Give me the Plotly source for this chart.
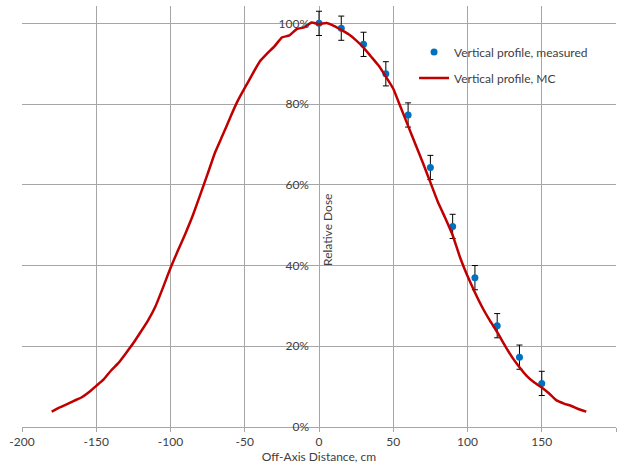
import plotly.graph_objects as go

# Measured vertical profile (relative dose, fraction)
meas_x = [0, 15, 30, 45, 60, 75, 90, 105, 120, 135, 150]
meas_y = [1.000, 0.988, 0.948, 0.875, 0.773, 0.643, 0.497, 0.370, 0.251, 0.173, 0.108]
meas_err = [0.03] * len(meas_x)

# Monte Carlo vertical profile
mc_x = [-180, -175, -170, -165, -160, -155, -150, -145, -140, -135, -130, -125, -120,
        -115, -110, -105, -100, -95, -90, -85, -80, -75, -70, -65, -60, -55, -50, -45,
        -40, -35, -30, -25, -20, -15, -10, -5, 0, 5, 10, 15, 20, 25, 30, 35, 40, 45, 50,
        55, 60, 65, 70, 75, 80, 85, 90, 95, 100, 105, 110, 115, 120, 125, 130, 135, 140,
        145, 150, 155, 160, 165, 170, 175, 180]
mc_y = [0.038, 0.048, 0.056, 0.065, 0.073, 0.086, 0.102, 0.118, 0.140, 0.159, 0.183,
        0.208, 0.236, 0.265, 0.300, 0.346, 0.394, 0.437, 0.479, 0.524, 0.575, 0.627,
        0.680, 0.722, 0.765, 0.806, 0.840, 0.873, 0.905, 0.925, 0.943, 0.965, 0.970,
        0.986, 0.990, 1.002, 0.998, 1.001, 0.994, 0.984, 0.973, 0.958, 0.940, 0.918,
        0.896, 0.868, 0.838, 0.792, 0.746, 0.700, 0.654, 0.606, 0.558, 0.518, 0.475,
        0.420, 0.374, 0.333, 0.296, 0.264, 0.235, 0.203, 0.173, 0.148, 0.126, 0.110,
        0.098, 0.083, 0.066, 0.058, 0.052, 0.044, 0.038]

x_ticks = [-200, -150, -100, -50, 0, 50, 100, 150, 200]
x_labels = ["-200", "-150", "-100", "-50", "0", "50", "100", "150", "200"]
y_ticks = [0, 0.2, 0.4, 0.6, 0.8, 1.0]

FONT = "Lato"
TXT = "#404040"
GRID = "#a6a6a6"

fig = go.Figure()
fig.add_trace(go.Scatter(
    x=meas_x, y=meas_y, mode="markers", name="Vertical profile, measured",
    marker=dict(color="#0070C0", size=7),
    error_y=dict(type="data", array=meas_err, color="#000000", thickness=1, width=3),
    legendgroup="a", cliponaxis=False,
))
fig.add_trace(go.Scatter(
    x=mc_x, y=mc_y, mode="lines", name="Vertical profile, MC",
    line=dict(color="#C00000", width=2.5, shape="spline", smoothing=0.4),
    legendgroup="b",
))

fig.update_layout(
    width=623, height=468,
    margin=dict(l=22, r=7, t=6, b=41),
    paper_bgcolor="white", plot_bgcolor="white",
    font=dict(family=FONT, size=12, color=TXT),
    showlegend=True,
    legend=dict(x=0.66, y=0.925, xanchor="left", yanchor="top",
                bgcolor="rgba(0,0,0,0)", font=dict(size=12, color=TXT),
                traceorder="grouped", tracegroupgap=7),
    xaxis=dict(range=[-200, 200], tickvals=x_ticks, ticktext=x_labels,
               showgrid=True, gridcolor=GRID,
               gridwidth=1, zeroline=False, showline=True, linecolor=GRID,
               ticks="outside", ticklen=4, tickcolor=GRID,
               tickfont=dict(size=12, color=TXT),
               title=dict(text="Off-Axis Distance, cm", standoff=2,
                          font=dict(size=12, color=TXT))),
    yaxis=dict(range=[0, 1.043], tickvals=y_ticks, tickformat=".0%",
               anchor="free", position=0.5, showgrid=True, gridcolor=GRID,
               gridwidth=1, zeroline=False, showline=False, ticks="",
               ticklabelstandoff=10, tickfont=dict(size=12, color=TXT)),
)
fig.add_annotation(text="Relative Dose", x=0, xref="x", xshift=9, y=0.468,
                   yref="paper", textangle=-90, showarrow=False,
                   font=dict(size=12, color=TXT))

fig.write_html("out.html")
